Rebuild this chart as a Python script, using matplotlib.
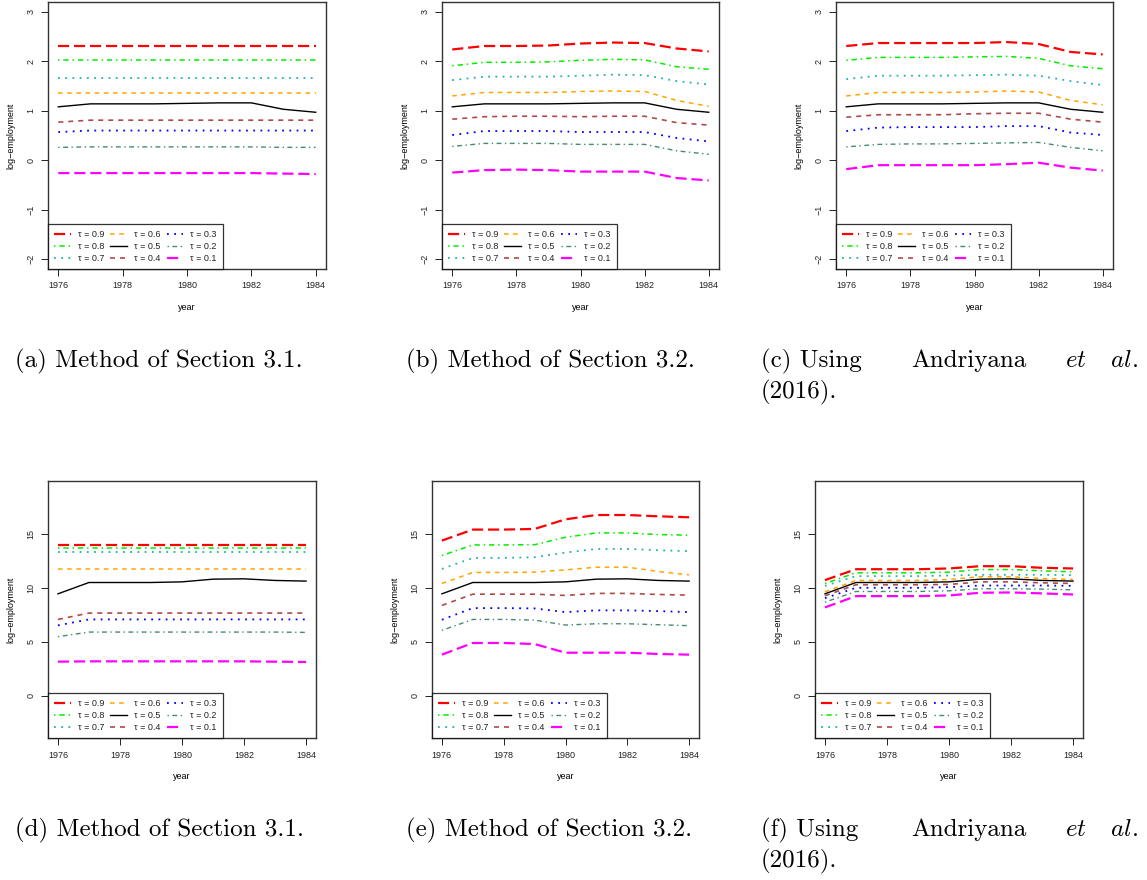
import matplotlib
matplotlib.use("Agg")
import matplotlib.pyplot as plt

# ── Data ──────────────────────────────────────────────────────────────────────
years = [1976, 1977, 1978, 1979, 1980, 1981, 1982, 1983, 1984]
taus = [0.9, 0.8, 0.7, 0.6, 0.5, 0.4, 0.3, 0.2, 0.1]

# rows follow taus (0.9 first, 0.1 last)
panel_a = [
    [2.31, 2.31, 2.31, 2.31, 2.31, 2.31, 2.31, 2.31, 2.31],
    [2.02, 2.02, 2.02, 2.02, 2.02, 2.02, 2.02, 2.02, 2.02],
    [1.66, 1.66, 1.66, 1.66, 1.66, 1.66, 1.66, 1.66, 1.66],
    [1.36, 1.36, 1.36, 1.36, 1.36, 1.36, 1.36, 1.36, 1.36],
    [1.08, 1.14, 1.14, 1.14, 1.15, 1.16, 1.16, 1.03, 0.97],
    [0.77, 0.81, 0.81, 0.81, 0.81, 0.81, 0.81, 0.81, 0.81],
    [0.57, 0.60, 0.60, 0.60, 0.60, 0.60, 0.60, 0.60, 0.60],
    [0.26, 0.27, 0.27, 0.27, 0.27, 0.27, 0.27, 0.26, 0.26],
    [-0.26, -0.26, -0.26, -0.26, -0.26, -0.26, -0.26, -0.27, -0.28],
]
panel_b = [
    [2.24, 2.31, 2.31, 2.32, 2.36, 2.38, 2.37, 2.26, 2.20],
    [1.91, 1.98, 1.98, 1.99, 2.02, 2.04, 2.03, 1.89, 1.84],
    [1.62, 1.69, 1.69, 1.69, 1.71, 1.73, 1.72, 1.60, 1.53],
    [1.30, 1.37, 1.37, 1.37, 1.39, 1.40, 1.39, 1.21, 1.09],
    [1.08, 1.14, 1.14, 1.14, 1.15, 1.16, 1.16, 1.03, 0.97],
    [0.83, 0.88, 0.89, 0.89, 0.88, 0.89, 0.89, 0.76, 0.71],
    [0.51, 0.59, 0.59, 0.59, 0.57, 0.57, 0.57, 0.45, 0.38],
    [0.28, 0.34, 0.34, 0.34, 0.32, 0.32, 0.32, 0.19, 0.12],
    [-0.25, -0.20, -0.19, -0.20, -0.23, -0.23, -0.23, -0.36, -0.41],
]
panel_c = [
    [2.31, 2.37, 2.37, 2.37, 2.37, 2.39, 2.35, 2.19, 2.14],
    [2.02, 2.08, 2.08, 2.08, 2.09, 2.10, 2.06, 1.91, 1.85],
    [1.64, 1.71, 1.71, 1.71, 1.72, 1.73, 1.71, 1.60, 1.52],
    [1.30, 1.37, 1.37, 1.37, 1.38, 1.40, 1.38, 1.21, 1.12],
    [1.08, 1.14, 1.14, 1.14, 1.15, 1.16, 1.16, 1.03, 0.97],
    [0.87, 0.92, 0.92, 0.92, 0.94, 0.95, 0.95, 0.83, 0.77],
    [0.59, 0.66, 0.67, 0.67, 0.67, 0.69, 0.69, 0.56, 0.51],
    [0.27, 0.32, 0.33, 0.33, 0.34, 0.35, 0.36, 0.26, 0.19],
    [-0.18, -0.10, -0.10, -0.10, -0.10, -0.08, -0.05, -0.15, -0.21],
]
panel_d = [
    [14.0, 14.0, 14.0, 14.0, 14.0, 14.0, 14.0, 14.0, 14.0],
    [13.7, 13.7, 13.7, 13.7, 13.7, 13.7, 13.7, 13.7, 13.7],
    [13.33, 13.33, 13.33, 13.33, 13.33, 13.33, 13.33, 13.33, 13.33],
    [11.73, 11.73, 11.73, 11.73, 11.73, 11.73, 11.73, 11.73, 11.73],
    [9.45, 10.5, 10.5, 10.5, 10.56, 10.81, 10.84, 10.69, 10.63],
    [7.08, 7.67, 7.67, 7.67, 7.67, 7.67, 7.67, 7.67, 7.67],
    [6.53, 7.08, 7.08, 7.08, 7.08, 7.08, 7.08, 7.08, 7.08],
    [5.48, 5.91, 5.91, 5.91, 5.91, 5.91, 5.91, 5.91, 5.88],
    [3.17, 3.2, 3.2, 3.2, 3.2, 3.2, 3.2, 3.17, 3.14],
]
panel_e = [
    [14.38, 15.40, 15.40, 15.46, 16.35, 16.75, 16.75, 16.63, 16.54],
    [13.00, 13.98, 13.98, 14.00, 14.69, 15.09, 15.09, 14.94, 14.88],
    [11.76, 12.78, 12.78, 12.84, 13.27, 13.61, 13.61, 13.49, 13.40],
    [10.41, 11.43, 11.43, 11.46, 11.67, 11.92, 11.92, 11.52, 11.21],
    [9.45, 10.5, 10.5, 10.5, 10.56, 10.81, 10.84, 10.69, 10.63],
    [8.38, 9.42, 9.42, 9.42, 9.30, 9.49, 9.49, 9.39, 9.33],
    [7.05, 8.13, 8.13, 8.10, 7.76, 7.92, 7.92, 7.85, 7.76],
    [6.07, 7.08, 7.08, 7.02, 6.56, 6.68, 6.68, 6.59, 6.50],
    [3.82, 4.90, 4.90, 4.80, 4.00, 4.00, 4.00, 3.88, 3.82],
]
panel_f = [
    [10.72, 11.73, 11.73, 11.73, 11.80, 12.01, 12.01, 11.86, 11.80],
    [10.41, 11.40, 11.40, 11.40, 11.46, 11.70, 11.70, 11.58, 11.49],
    [10.19, 11.09, 11.09, 11.09, 11.15, 11.21, 11.21, 11.21, 11.18],
    [9.64, 10.69, 10.69, 10.69, 10.78, 11.03, 11.03, 10.87, 10.78],
    [9.45, 10.5, 10.5, 10.5, 10.56, 10.81, 10.84, 10.69, 10.63],
    [9.27, 10.29, 10.29, 10.29, 10.32, 10.56, 10.56, 10.47, 10.41],
    [9.05, 10.01, 10.01, 10.01, 10.07, 10.22, 10.22, 10.22, 10.19],
    [8.68, 9.67, 9.67, 9.67, 9.73, 9.92, 9.92, 9.89, 9.82],
    [8.19, 9.24, 9.24, 9.24, 9.30, 9.55, 9.58, 9.49, 9.39],
]

top_yticks = [-2, -1, 0, 1, 2, 3]
bottom_yticks = [0, 5, 10, 15]
xticks = [1976, 1978, 1980, 1982, 1984]

# ── Style ─────────────────────────────────────────────────────────────────────
COLORS = ["#FF0000", "#00EE00", "#20B2AA", "#FFA500", "#000000",
          "#B04A4A", "#0000FF", "#458B74", "#FF00FF"]
DOTDASH = (0, (1, 2.5, 3.5, 2.5))
STYLES = [(0, (5, 2.2)), DOTDASH, (0, (1, 3)), (0, (3, 3)), "-",
          (0, (3, 3)), (0, (1, 3)), DOTDASH, (0, (5, 2.2))]
WIDTHS = [1.6, 1.1, 1.3, 1.1, 1.0, 1.2, 1.3, 1.0, 1.6]
TEXT = "#222222"
SANS = ["Liberation Sans", "DejaVu Sans"]
FS = 6.5

plt.rcParams.update({
    "font.family": SANS,
    "font.size": FS,
    "text.color": TEXT,
    "xtick.color": TEXT,
    "ytick.color": TEXT,
    "axes.linewidth": 1.0,
    "axes.edgecolor": "#333333",
    "mathtext.fontset": "cm",
})

fig = plt.figure(figsize=(11.47, 8.8), dpi=100)
W, H = 1147.0, 880.0

def add_panel(left, right, top, bottom):
    return fig.add_axes([left / W, 1 - bottom / H, (right - left) / W, (bottom - top) / H])

def draw(ax, rows, ylim, yticks):
    for vals, tau, c, ls, lw in zip(rows, taus, COLORS, STYLES, WIDTHS):
        ax.plot(years, vals, color=c, linestyle=ls, linewidth=lw, label=f"τ = {tau}")
    ax.set_xlim(1975.68, 1984.32)
    ax.set_ylim(*ylim)
    ax.set_xticks(xticks)
    ax.set_yticks(yticks)
    ax.tick_params(direction="out", length=5, width=0.7, labelsize=FS, pad=4)
    for lab in ax.get_yticklabels():
        lab.set_rotation(90)
        lab.set_va("center")
    ax.set_xlabel("year", fontsize=FS, labelpad=9)
    ax.set_ylabel("log\u2212employment", fontsize=FS, labelpad=8)
    leg = ax.legend(loc="lower left", bbox_to_anchor=(0, 0), borderaxespad=0,
                    ncol=3, fontsize=FS, frameon=True, fancybox=False,
                    edgecolor="black", handlelength=1.8, handletextpad=0.8,
                    columnspacing=0.7, labelspacing=0.3, borderpad=0.7)
    leg.get_frame().set_linewidth(0.9)

# ── Top row ───────────────────────────────────────────────────────────────────
top_box = (2, 269)
for (l, r), rows in zip([(48, 326), (442, 719), (836, 1113)], [panel_a, panel_b, panel_c]):
    ax = add_panel(l, r, *top_box)
    draw(ax, rows, (-2.2, 3.2), top_yticks)

# ── Bottom row ────────────────────────────────────────────────────────────────
bot_box = (481, 738)
for (l, r), rows in zip([(48, 316), (432, 699), (815, 1083)], [panel_d, panel_e, panel_f]):
    ax = add_panel(l, r, *bot_box)
    draw(ax, rows, (-3.9, 19.9), bottom_yticks)

# ── Captions ──────────────────────────────────────────────────────────────────
CAP = dict(fontsize=18, family="cmr10", color="black", va="baseline", ha="left")

def caption(x, y, s, **kw):
    fig.text(x / W, 1 - y / H, s, **{**CAP, **kw})

for base, (la, lb, lc) in [(367, ("(a)", "(b)", "(c)")), (836, ("(d)", "(e)", "(f)"))]:
    caption(15, base, f"{la} Method of Section 3.1.")
    caption(406, base, f"{lb} Method of Section 3.2.")
    caption(761, base, f"{lc} Using")
    caption(911, base, "Andriyana")
    caption(1138, base, r"$\mathit{et}$   $\mathit{al.}$", ha="right")
    caption(761, base + 31, "(2016).")

fig.savefig("out.png", dpi=100)
